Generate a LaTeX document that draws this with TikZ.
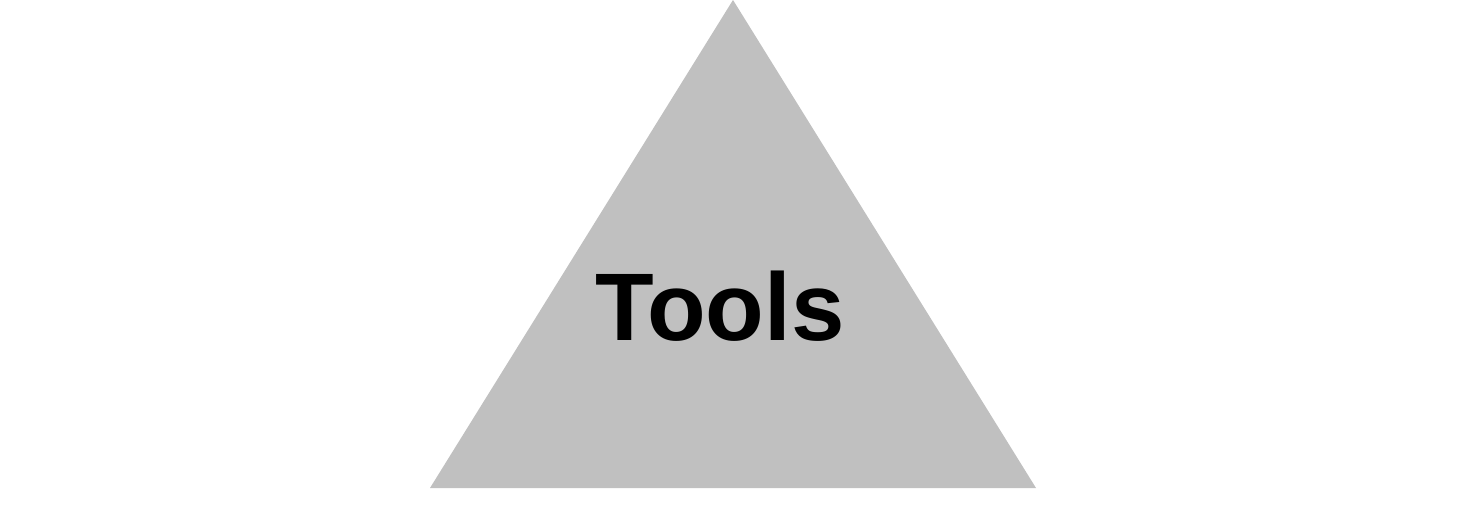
\documentclass[tikz,border=0pt]{standalone}
\usepackage{fontspec}
\setmainfont{Liberation Sans}
\definecolor{trigray}{RGB}{192,192,192}
\tikzset{tri/.style={fill=trigray,draw=none}, lbl/.style={font=\fontsize{96}{110}\selectfont\bfseries, inner sep=0pt, anchor=base}}
\begin{document}
\begin{tikzpicture}[x=1pt,y=1pt]
\useasboundingbox (0,0) rectangle (1464,504);
\fill[white] (0,0) rectangle (1464,504);
\coordinate (apex) at (733,504);
\coordinate (bl) at (430,16);
\coordinate (br) at (1036,16);
\path[tri] (apex) -- (br) -- (bl) -- cycle;
\node[lbl] (tools) at (720,164) {Tools};
\end{tikzpicture}
\end{document}
